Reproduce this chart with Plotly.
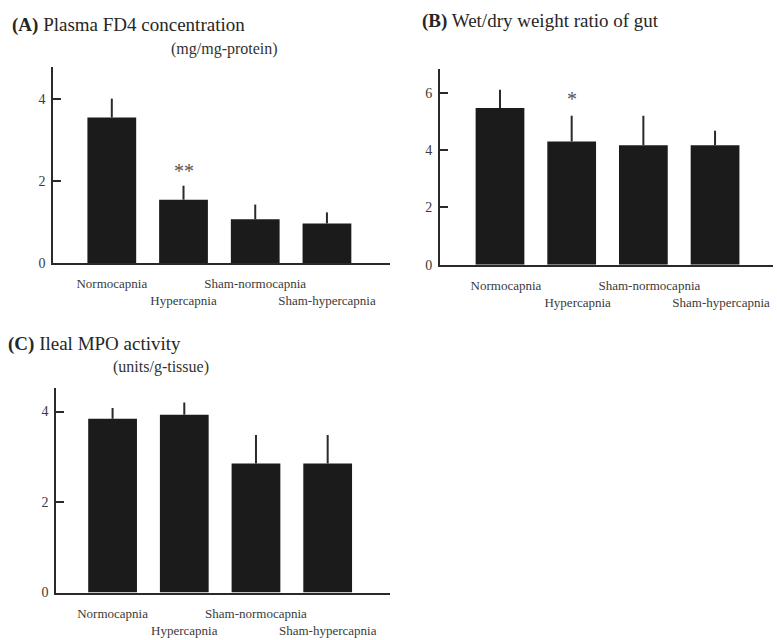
import plotly.graph_objects as go

# ---- data ----
groups = ["Normocapnia", "Hypercapnia", "Sham-normocapnia", "Sham-hypercapnia"]
tick_labels = ["Normocapnia", "<br>Hypercapnia", "Sham-normocapnia", "<br>Sham-hypercapnia"]

fd4_mean = [3.54, 1.54, 1.06, 0.96]
fd4_err = [0.46, 0.34, 0.36, 0.27]

wetdry_mean = [5.47, 4.30, 4.17, 4.17]
wetdry_err = [0.63, 0.90, 1.03, 0.50]

mpo_mean = [3.84, 3.93, 2.85, 2.85]
mpo_err = [0.24, 0.27, 0.63, 0.63]

yticks_a = [0, 2, 4]
yticks_b = [0, 2, 4, 6]
yticks_c = [0, 2, 4]

FONT = "Liberation Serif"
BAR = "#1b1b1b"
INK = "#2a2a2a"
TXT = "#3a3a3a"

x_idx = list(range(len(groups)))


def bar(means, errs, xa, ya):
    return go.Bar(
        x=x_idx, y=means, xaxis=xa, yaxis=ya, width=0.68,
        marker=dict(color=BAR, line=dict(width=0)),
        error_y=dict(type="data", array=errs, arrayminus=[0] * len(errs),
                     symmetric=False, width=0, thickness=2, color=INK),
        showlegend=False, hoverinfo="skip",
    )


fig = go.Figure()
fig.add_trace(bar(fd4_mean, fd4_err, "x", "y"))
fig.add_trace(bar(wetdry_mean, wetdry_err, "x2", "y2"))
fig.add_trace(bar(mpo_mean, mpo_err, "x3", "y3"))


def xaxis(domain, rng, anchor, shift=0):
    return dict(
        domain=domain, range=rng, anchor=anchor,
        tickmode="array", tickvals=x_idx, ticktext=tick_labels, tickangle=0,
        ticks="", showline=True, linecolor=INK, linewidth=1.5,
        showgrid=False, zeroline=False,
        tickfont=dict(family=FONT, size=13, color=TXT),
        ticklabelshift=shift, ticklabelstandoff=8,
    )


def yaxis(domain, rng, anchor, ticks):
    return dict(
        domain=domain, range=rng, anchor=anchor,
        tickmode="array", tickvals=ticks,
        ticks="inside", ticklen=8, tickwidth=1.5, tickcolor=INK,
        showline=True, linecolor=INK, linewidth=1.5,
        showgrid=False, zeroline=False,
        tickfont=dict(family=FONT, size=14, color=TXT),
        ticklabelstandoff=3,
    )


fig.update_layout(
    width=777, height=640,
    margin=dict(l=0, r=0, t=0, b=0),
    paper_bgcolor="white", plot_bgcolor="rgba(0,0,0,0)",
    bargap=0.3,
    xaxis=xaxis([0.0682, 0.502], [-0.82, 3.88], "y"),
    yaxis=yaxis([0.584, 0.894], [0, 4.77], "x", yticks_a),
    xaxis2=xaxis([0.566, 0.995], [-0.84, 3.81], "y2", shift=6),
    yaxis2=yaxis([0.581, 0.891], [0, 6.83], "x2", yticks_b),
    xaxis3=xaxis([0.072, 0.502], [-0.79, 3.87], "y3"),
    yaxis3=yaxis([0.0625, 0.386], [0, 4.52], "x3", yticks_c),
)

title_font = dict(family=FONT, size=19, color="#262626")
sub_font = dict(family=FONT, size=16, color="#333333")
anns = [
    dict(text="<b>(A)</b> Plasma FD4 concentration", x=10 / 777, y=1 - 25 / 640,
         xanchor="left", yanchor="middle", font=title_font),
    dict(text="(mg/mg-protein)", x=225 / 777, y=1 - 50 / 640,
         xanchor="center", yanchor="middle", font=sub_font),
    dict(text="<b>(B)</b> Wet/dry weight ratio of gut", x=420 / 777, y=1 - 21 / 640,
         xanchor="left", yanchor="middle", font=title_font),
    dict(text="<b>(C)</b> Ileal MPO activity", x=6 / 777, y=1 - 348 / 640,
         xanchor="left", yanchor="middle", font=title_font),
    dict(text="(units/g-tissue)", x=161 / 777, y=1 - 372 / 640,
         xanchor="center", yanchor="middle", font=sub_font),
]
for a in anns:
    a.update(xref="paper", yref="paper", showarrow=False)
    fig.add_annotation(**a)

star_font = dict(family=FONT, size=20, color="#555555")
fig.add_annotation(x=1, y=fd4_mean[1] + fd4_err[1], xref="x", yref="y", text="**",
                   showarrow=False, yanchor="bottom", yshift=2, font=star_font)
fig.add_annotation(x=1, y=wetdry_mean[1] + wetdry_err[1], xref="x2", yref="y2", text="*",
                   showarrow=False, yanchor="bottom", yshift=4, font=star_font)

fig.write_html(
    "out.html",
    config={"displayModeBar": False},
    post_script="document.body.style.margin='0';document.body.style.overflow='hidden';",
)
